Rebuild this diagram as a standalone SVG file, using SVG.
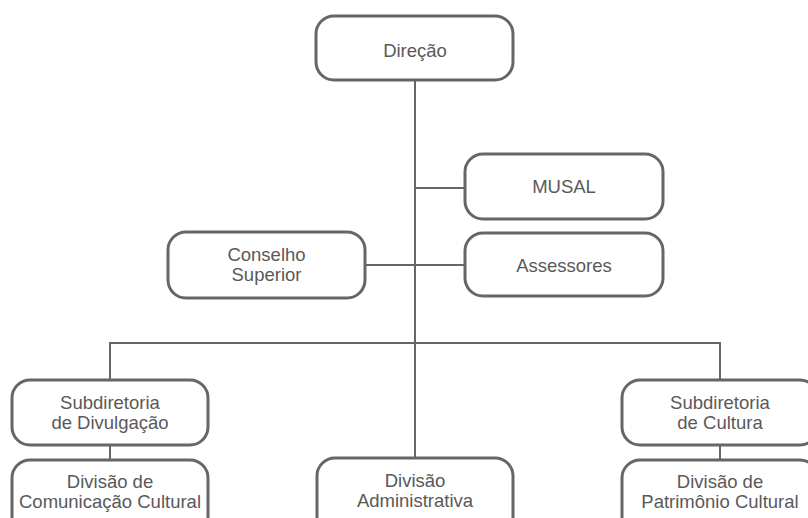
<svg xmlns="http://www.w3.org/2000/svg" width="808" height="518" viewBox="0 0 808 518">
<style>
.box{fill:#fff;stroke:#666;stroke-width:3}
.ln{fill:none;stroke:#666;stroke-width:2}
text{font-family:"Liberation Sans",Arial,sans-serif;font-size:18.5px;fill:#595959;text-anchor:middle}
</style>
<rect width="808" height="518" fill="#fff"/>
<g id="connectors">
<path class="ln" d="M415 80V458"/>
<path class="ln" d="M415 188H465"/>
<path class="ln" d="M365 265H465"/>
<path class="ln" d="M110 380V343H720V380"/>
<path class="ln" d="M110 445V460"/>
<path class="ln" d="M720 445V460"/>
</g>
<g id="direcao"><rect class="box" x="316" y="16" width="197" height="64" rx="18"/><text x="415" y="57">Direção</text></g>
<g id="musal"><rect class="box" x="465" y="154" width="198" height="65" rx="18"/><text x="564" y="193">MUSAL</text></g>
<g id="assessores"><rect class="box" x="465" y="233" width="198" height="63" rx="18"/><text x="564" y="272">Assessores</text></g>
<g id="conselho"><rect class="box" x="168" y="232" width="197" height="66" rx="18"/><text x="266.5" y="261">Conselho</text><text x="266.5" y="281">Superior</text></g>
<g id="sub-divulgacao"><rect class="box" x="12" y="380" width="196" height="65" rx="18"/><text x="110" y="409">Subdiretoria</text><text x="110" y="429">de Divulgação</text></g>
<g id="sub-cultura"><rect class="box" x="622" y="380" width="196" height="65" rx="18"/><text x="720" y="409">Subdiretoria</text><text x="720" y="429">de Cultura</text></g>
<g id="div-comunicacao"><rect class="box" x="12" y="460" width="196" height="80" rx="18"/><text x="110" y="488">Divisão de</text><text x="110" y="508">Comunicação Cultural</text></g>
<g id="div-administrativa"><rect class="box" x="317" y="458" width="196" height="80" rx="18"/><text x="415" y="487">Divisão</text><text x="415" y="507">Administrativa</text></g>
<g id="div-patrimonio"><rect class="box" x="622" y="460" width="196" height="80" rx="18"/><text x="720" y="488">Divisão de</text><text x="720" y="508">Patrimônio Cultural</text></g>
</svg>
